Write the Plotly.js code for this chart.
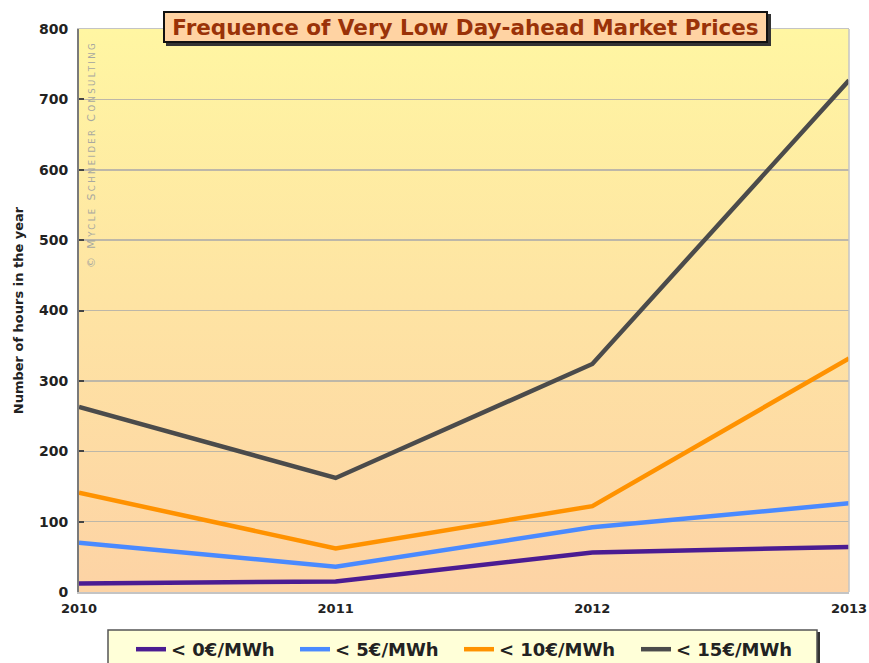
<!DOCTYPE html>
<html>
<head>
<meta charset="utf-8">
<script src="https://cdn.plot.ly/plotly-3.0.1.min.js"></script>
<style>
html,body{margin:0;padding:0;background:#fff;}
#chart{width:869px;height:663px;}
</style>
</head>
<body>
<div id="chart"></div>
<script>
const years = [2010, 2011, 2012, 2013];
const seriesNames = ["< 0€/MWh", "< 5€/MWh", "< 10€/MWh", "< 15€/MWh"];
const below0 = [12, 15, 56, 64];
const below5 = [70, 36, 92, 126];
const below10 = [141, 62, 122, 332];
const below15 = [263, 162, 324, 727];
const yTicks = [0, 100, 200, 300, 400, 500, 600, 700, 800];

// styles
const colors = ["#4b1c92", "#4a8aff", "#ff9200", "#4b4b4b"];
const legendWidths = [119, 119, 132, 120];

const allSeries = [below0, below5, below10, below15];
const traces = allSeries.map((vals, i) => ({
  x: years,
  y: vals,
  name: seriesNames[i],
  type: "scatter",
  mode: "lines",
  line: {color: colors[i], width: 4.5},
  legendwidth: legendWidths[i],
  hoverinfo: "x+y+name"
}));

const gradSvg = '<svg xmlns="http://www.w3.org/2000/svg" width="100" height="100" preserveAspectRatio="none">' +
  '<defs><linearGradient id="g" x1="0" y1="0" x2="0" y2="1">' +
  '<stop offset="0" stop-color="#fff6a2"/>' +
  '<stop offset="0.5" stop-color="#fee3a3"/>' +
  '<stop offset="1" stop-color="#fdd3a5"/>' +
  '</linearGradient></defs><rect width="100" height="100" fill="url(#g)"/></svg>';
const gradUri = "data:image/svg+xml;base64," + btoa(gradSvg);

// pixel helpers (plot area: x 79..849, y 29..592)
const px = x => (x - 79) / 770;
const py = y => (592 - y) / 563;

const layout = {
  width: 869,
  height: 663,
  margin: {l: 79, r: 20, t: 29, b: 71, autoexpand: false},
  paper_bgcolor: "#ffffff",
  plot_bgcolor: "rgba(0,0,0,0)",
  font: {family: "DejaVu Sans, sans-serif", color: "#222"},
  showlegend: true,
  images: [{
    source: gradUri,
    xref: "paper", yref: "paper",
    x: 0, y: 1, sizex: 1, sizey: 1,
    xanchor: "left", yanchor: "top",
    sizing: "stretch", layer: "below"
  }],
  xaxis: {
    range: [2010, 2013],
    tickvals: years,
    ticktext: years.map(String),
    showgrid: false,
    zeroline: false,
    showline: true,
    mirror: true,
    linecolor: "#c4c4c4",
    linewidth: 1.5,
    ticks: "",
    tickfont: {family: "DejaVu Sans, sans-serif", size: 13, color: "#222", weight: "bold"},
    ticklabelstandoff: 4,
    fixedrange: true
  },
  yaxis: {
    range: [0, 800],
    tickvals: yTicks,
    showgrid: true,
    gridcolor: "#bdb7a8",
    gridwidth: 1.5,
    zeroline: false,
    showline: true,
    linecolor: "#7a7a7a",
    linewidth: 2,
    ticks: "inside",
    ticklen: 5,
    tickwidth: 2,
    tickcolor: "#444",
    tickfont: {family: "DejaVu Sans, sans-serif", size: 14, color: "#222", weight: "bold"},
    ticklabelstandoff: 6,
    title: {
      text: "Number of hours in the year",
      font: {family: "DejaVu Sans, sans-serif", size: 13, color: "#222", weight: "bold"},
      standoff: 12
    },
    fixedrange: true
  },
  legend: {
    orientation: "h",
    x: px(131), xanchor: "left",
    y: py(631), yanchor: "top",
    bgcolor: "rgba(0,0,0,0)",
    borderwidth: 0,
    font: {family: "DejaVu Sans, sans-serif", size: 18, color: "#222", weight: "bold"},
    itemwidth: 30,
    tracegroupgap: 0
  },
  shapes: [
    {type: "line", xref: "paper", yref: "paper", x0: 1, x1: 1, y0: 0, y1: 1,
     line: {color: "#c4c4c4", width: 1.5}},
    // title box shadow
    {type: "rect", xref: "paper", yref: "paper",
     x0: px(166), x1: px(771), y0: py(46), y1: py(14),
     fillcolor: "#333", line: {width: 0}, layer: "above"},
    // legend box shadow + box
    {type: "rect", xref: "paper", yref: "paper",
     x0: px(110), x1: px(820), y0: py(670), y1: py(632),
     fillcolor: "#333", line: {width: 0}, layer: "above"},
    {type: "rect", xref: "paper", yref: "paper",
     x0: px(108), x1: px(817), y0: py(668), y1: py(630),
     fillcolor: "#ffffd8", line: {color: "#555", width: 1.5}, layer: "above"}
  ],
  annotations: [
    {
      text: "Frequence of Very Low Day-ahead Market Prices",
      xref: "paper", yref: "paper",
      x: px(163), y: py(11),
      xanchor: "left", yanchor: "top",
      width: 601, height: 28,
      align: "center", valign: "middle",
      showarrow: false,
      bgcolor: "#ffd3a3",
      bordercolor: "#111",
      borderwidth: 2,
      borderpad: 0,
      font: {family: "DejaVu Sans, sans-serif", size: 21.5, color: "#9a3208", weight: "bold"}
    },
    {
      text: "<span style='letter-spacing:2.4px'>© M<span style='font-size:8.5px'>YCLE</span> S<span style='font-size:8.5px'>CHNEIDER</span> C<span style='font-size:8.5px'>ONSULTING</span></span>",
      xref: "paper", yref: "paper",
      x: px(91), y: py(155),
      xanchor: "center", yanchor: "middle",
      textangle: -90,
      showarrow: false,
      font: {family: "DejaVu Sans, sans-serif", size: 11, color: "#a8a8a0"}
    }
  ]
};

Plotly.newPlot("chart", traces, layout, {displayModeBar: false, staticPlot: true});
</script>
</body>
</html>
